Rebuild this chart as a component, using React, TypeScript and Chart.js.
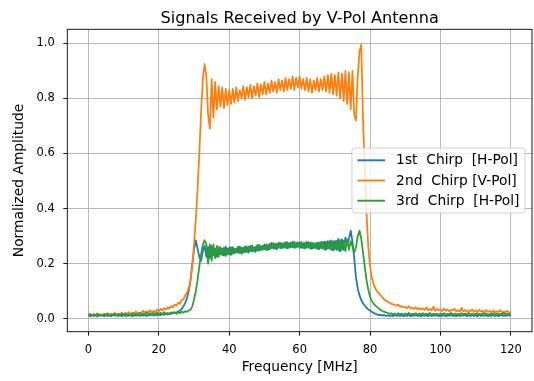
import React, { useEffect, useRef } from "react";
import { Chart, registerables } from "chart.js";

Chart.register(...registerables);

const TITLE = "Signals Received by V-Pol Antenna";
const X_LABEL = "Frequency [MHz]";
const Y_LABEL = "Normalized Amplitude";
const LEGEND_LABELS = ["1st  Chirp  [H-Pol]", "2nd  Chirp [V-Pol]", "3rd  Chirp  [H-Pol]"];
const COLORS = ["#1f77b4", "#ff7f0e", "#2ca02c"];

// frequency sampling grid (MHz): 0 .. 120 in steps of 0.5
const FREQ_STEP_MHZ = 0.5;
const X_TICKS = [0, 20, 40, 60, 80, 100, 120];
const Y_TICKS = [0.0, 0.2, 0.4, 0.6, 0.8, 1.0];

// 1st chirp [H-Pol]
const CHIRP1_H = [
  0.012, 0.009, 0.014, 0.010, 0.013, 0.008, 0.012, 0.011, 0.014, 0.009,
  0.013, 0.010, 0.012, 0.009, 0.014, 0.011, 0.013, 0.010, 0.012, 0.009,
  0.014, 0.010, 0.012, 0.011, 0.015, 0.009, 0.013, 0.011, 0.014, 0.010,
  0.013, 0.011, 0.015, 0.010, 0.014, 0.012, 0.016, 0.011, 0.015, 0.012,
  0.016, 0.013, 0.017, 0.014, 0.019, 0.015, 0.020, 0.018, 0.023, 0.021,
  0.022, 0.026, 0.030, 0.036, 0.045, 0.058, 0.075, 0.100, 0.140, 0.200,
  0.250, 0.285, 0.255, 0.225, 0.210, 0.245, 0.265, 0.225, 0.260, 0.220,
  0.265, 0.230, 0.255, 0.225, 0.260, 0.235, 0.255, 0.230, 0.262, 0.235,
  0.258, 0.232, 0.260, 0.238, 0.255, 0.240, 0.262, 0.236, 0.258, 0.242,
  0.262, 0.240, 0.265, 0.245, 0.260, 0.243, 0.268, 0.247, 0.264, 0.250,
  0.270, 0.250, 0.268, 0.252, 0.275, 0.255, 0.272, 0.252, 0.276, 0.256,
  0.274, 0.258, 0.278, 0.255, 0.275, 0.260, 0.280, 0.257, 0.276, 0.262,
  0.278, 0.258, 0.275, 0.255, 0.280, 0.258, 0.276, 0.254, 0.274, 0.256,
  0.276, 0.252, 0.278, 0.255, 0.280, 0.250, 0.282, 0.254, 0.285, 0.248,
  0.283, 0.250, 0.290, 0.245, 0.288, 0.250, 0.295, 0.270, 0.290, 0.320,
  0.280, 0.220, 0.150, 0.110, 0.085, 0.068, 0.056, 0.048, 0.040, 0.034,
  0.030, 0.025, 0.022, 0.018, 0.016, 0.013, 0.015, 0.011, 0.014, 0.010,
  0.013, 0.010, 0.012, 0.009, 0.014, 0.011, 0.012, 0.010, 0.013, 0.009,
  0.012, 0.010, 0.014, 0.009, 0.012, 0.011, 0.013, 0.010, 0.012, 0.009,
  0.013, 0.011, 0.012, 0.009, 0.014, 0.010, 0.012, 0.011, 0.013, 0.009,
  0.012, 0.010, 0.013, 0.009, 0.012, 0.011, 0.014, 0.010, 0.012, 0.009,
  0.013, 0.010, 0.012, 0.011, 0.014, 0.009, 0.012, 0.010, 0.013, 0.010,
  0.012, 0.009, 0.014, 0.010, 0.012, 0.011, 0.013, 0.009, 0.012, 0.010,
  0.013, 0.010, 0.012, 0.009, 0.014, 0.011, 0.012, 0.010, 0.013, 0.011,
  0.012,
];

// 2nd chirp [V-Pol]
const CHIRP2_V = [
  0.014, 0.018, 0.012, 0.017, 0.013, 0.019, 0.014, 0.016, 0.012, 0.018,
  0.015, 0.020, 0.013, 0.018, 0.016, 0.021, 0.014, 0.019, 0.017, 0.022,
  0.016, 0.021, 0.018, 0.024, 0.017, 0.022, 0.020, 0.026, 0.019, 0.023,
  0.021, 0.029, 0.022, 0.027, 0.024, 0.031, 0.023, 0.028, 0.026, 0.033,
  0.027, 0.036, 0.030, 0.038, 0.033, 0.042, 0.037, 0.046, 0.041, 0.052,
  0.048, 0.058, 0.055, 0.068, 0.070, 0.085, 0.095, 0.112, 0.140, 0.190,
  0.270, 0.360, 0.470, 0.600, 0.750, 0.870, 0.925, 0.880, 0.740, 0.690,
  0.870, 0.730, 0.860, 0.760, 0.845, 0.770, 0.840, 0.765, 0.835, 0.775,
  0.830, 0.780, 0.835, 0.785, 0.840, 0.790, 0.830, 0.800, 0.845, 0.795,
  0.840, 0.805, 0.850, 0.800, 0.845, 0.810, 0.855, 0.805, 0.850, 0.815,
  0.860, 0.815, 0.855, 0.820, 0.865, 0.825, 0.860, 0.820, 0.870, 0.830,
  0.865, 0.825, 0.875, 0.830, 0.870, 0.835, 0.880, 0.830, 0.875, 0.840,
  0.880, 0.835, 0.870, 0.830, 0.875, 0.825, 0.870, 0.820, 0.865, 0.830,
  0.875, 0.825, 0.870, 0.830, 0.880, 0.825, 0.885, 0.820, 0.890, 0.815,
  0.885, 0.810, 0.895, 0.800, 0.890, 0.790, 0.900, 0.780, 0.895, 0.760,
  0.900, 0.740, 0.720, 0.880, 0.970, 0.995, 0.720, 0.550, 0.380, 0.260,
  0.190, 0.150, 0.125, 0.110, 0.100, 0.092, 0.085, 0.078, 0.070, 0.066,
  0.062, 0.058, 0.055, 0.052, 0.050, 0.047, 0.052, 0.044, 0.046, 0.041,
  0.043, 0.038, 0.046, 0.037, 0.040, 0.035, 0.042, 0.034, 0.039, 0.033,
  0.038, 0.032, 0.041, 0.031, 0.036, 0.030, 0.044, 0.029, 0.035, 0.031,
  0.033, 0.028, 0.037, 0.029, 0.034, 0.027, 0.032, 0.030, 0.036, 0.027,
  0.031, 0.026, 0.040, 0.027, 0.032, 0.025, 0.030, 0.028, 0.034, 0.025,
  0.030, 0.024, 0.033, 0.026, 0.029, 0.023, 0.031, 0.025, 0.028, 0.024,
  0.030, 0.023, 0.027, 0.025, 0.031, 0.022, 0.026, 0.024, 0.029, 0.022,
  0.025,
];

// 3rd chirp [H-Pol]
const CHIRP3_H = [
  0.013, 0.017, 0.011, 0.016, 0.012, 0.018, 0.013, 0.015, 0.011, 0.017,
  0.014, 0.018, 0.012, 0.016, 0.013, 0.019, 0.012, 0.017, 0.014, 0.018,
  0.013, 0.019, 0.014, 0.017, 0.012, 0.020, 0.015, 0.018, 0.013, 0.021,
  0.015, 0.019, 0.014, 0.022, 0.016, 0.020, 0.015, 0.021, 0.017, 0.023,
  0.016, 0.022, 0.017, 0.024, 0.018, 0.021, 0.016, 0.023, 0.019, 0.024,
  0.018, 0.025, 0.020, 0.026, 0.022, 0.028, 0.025, 0.030, 0.033, 0.045,
  0.070, 0.100, 0.140, 0.190, 0.235, 0.270, 0.285, 0.270, 0.200, 0.270,
  0.210, 0.270, 0.220, 0.265, 0.225, 0.260, 0.230, 0.258, 0.228, 0.255,
  0.232, 0.260, 0.236, 0.255, 0.240, 0.262, 0.238, 0.258, 0.240, 0.263,
  0.242, 0.262, 0.245, 0.266, 0.244, 0.262, 0.248, 0.268, 0.250, 0.265,
  0.252, 0.270, 0.250, 0.272, 0.256, 0.275, 0.254, 0.273, 0.258, 0.276,
  0.256, 0.275, 0.258, 0.278, 0.257, 0.276, 0.260, 0.279, 0.258, 0.277,
  0.257, 0.279, 0.256, 0.276, 0.258, 0.278, 0.255, 0.277, 0.257, 0.275,
  0.254, 0.277, 0.256, 0.279, 0.252, 0.280, 0.255, 0.282, 0.250, 0.281,
  0.252, 0.283, 0.248, 0.286, 0.250, 0.284, 0.246, 0.288, 0.250, 0.282,
  0.262, 0.240, 0.260, 0.300, 0.320, 0.290, 0.240, 0.190, 0.140, 0.105,
  0.080, 0.065, 0.055, 0.048, 0.042, 0.037, 0.032, 0.028, 0.026, 0.023,
  0.021, 0.018, 0.020, 0.016, 0.019, 0.015, 0.020, 0.016, 0.018, 0.015,
  0.019, 0.016, 0.021, 0.015, 0.018, 0.016, 0.020, 0.014, 0.019, 0.016,
  0.020, 0.015, 0.018, 0.016, 0.021, 0.014, 0.019, 0.016, 0.018, 0.015,
  0.019, 0.016, 0.020, 0.014, 0.018, 0.017, 0.021, 0.015, 0.019, 0.016,
  0.018, 0.015, 0.020, 0.016, 0.019, 0.014, 0.021, 0.016, 0.018, 0.015,
  0.019, 0.016, 0.018, 0.015, 0.020, 0.016, 0.019, 0.014, 0.018, 0.016,
  0.020, 0.015, 0.019, 0.016, 0.018, 0.015, 0.021, 0.016, 0.019, 0.017,
  0.018,
];

const FONT = "'DejaVu Sans', 'Liberation Sans', sans-serif";
const TICK_PX = 11.5;
const LABEL_PX = 13.8;
const TITLE_PX = 16.1;

const W = 534;
const H = 381;

export default function App() {
  const ref = useRef<HTMLCanvasElement>(null);

  useEffect(() => {
    const canvas = ref.current;
    if (!canvas) return;
    const seriesList = [CHIRP1_H, CHIRP2_V, CHIRP3_H];
    const toPoints = (ys: number[]) => ys.map((y, i) => ({ x: i * FREQ_STEP_MHZ, y }));

    const framePlugin = {
      id: "frameAndTitle",
      afterDatasetsDraw(chart: any) {
        const { ctx, chartArea } = chart;
        ctx.save();
        ctx.strokeStyle = "#000";
        ctx.lineWidth = 0.9;
        ctx.strokeRect(chartArea.left, chartArea.top, chartArea.right - chartArea.left, chartArea.bottom - chartArea.top);
        ctx.fillStyle = "#000";
        ctx.font = `${TITLE_PX}px ${FONT}`;
        ctx.textAlign = "center";
        ctx.textBaseline = "alphabetic";
        ctx.fillText(TITLE, (chartArea.left + chartArea.right) / 2, chartArea.top - 6.8);
        ctx.restore();
      },
    };

    const legendPlugin = {
      id: "boxLegend",
      afterDraw(chart: any) {
        const { ctx, chartArea } = chart;
        ctx.save();
        ctx.font = `${LABEL_PX}px ${FONT}`;
        const textW = Math.max(...LEGEND_LABELS.map((t) => ctx.measureText(t).width));
        const pad = 0.4 * LABEL_PX;
        const handle = 2.0 * LABEL_PX;
        const gap = 0.8 * LABEL_PX;
        const boxW = pad + handle + gap + textW + pad;
        const boxH = 65;
        const right = chartArea.right - 7;
        const left = right - boxW;
        const cy = (chartArea.top + chartArea.bottom) / 2;
        const top = cy - boxH / 2;
        ctx.beginPath();
        (ctx as any).roundRect(left, top, boxW, boxH, 3);
        ctx.fillStyle = "rgba(255,255,255,0.8)";
        ctx.fill();
        ctx.strokeStyle = "#cccccc";
        ctx.lineWidth = 0.9;
        ctx.stroke();
        const pitch = 20.2;
        LEGEND_LABELS.forEach((label, i) => {
          const y = cy + (i - 1) * pitch;
          ctx.beginPath();
          ctx.moveTo(left + pad, y);
          ctx.lineTo(left + pad + handle, y);
          ctx.strokeStyle = COLORS[i];
          ctx.lineWidth = 1.9;
          ctx.stroke();
          ctx.fillStyle = "#000";
          ctx.textAlign = "left";
          ctx.textBaseline = "middle";
          ctx.fillText(label, left + pad + handle + gap, y + 0.5);
        });
        ctx.restore();
      },
    };

    const chart = new Chart(canvas, {
      type: "line",
      data: {
        datasets: seriesList.map((ys, i) => ({
          label: LEGEND_LABELS[i],
          data: toPoints(ys),
          borderColor: COLORS[i],
          backgroundColor: COLORS[i],
          borderWidth: 1.75,
          pointRadius: 0,
          tension: 0,
          fill: false,
          borderJoinStyle: "round" as const,
          order: 2 - i,
        })),
      },
      options: {
        responsive: false,
        devicePixelRatio: 1,
        animation: false,
        events: [],
        layout: { padding: { top: 29.3, right: 2, left: 0, bottom: 0 } },
        plugins: {
          legend: { display: false },
          tooltip: { enabled: false },
          title: { display: false },
        },
        scales: {
          x: {
            type: "linear",
            min: -6,
            max: 126,
            afterFit: (s: any) => {
              s.height = 49.3;
            },
            afterBuildTicks: (s: any) => {
              s.ticks = X_TICKS.map((v) => ({ value: v }));
            },
            ticks: {
              includeBounds: false,
              autoSkip: false,
              maxRotation: 0,
              padding: 7.5,
              color: "#000",
              font: { family: FONT, size: TICK_PX },
              callback: (v: any) => String(v),
            },
            grid: {
              color: "#b0b0b0",
              lineWidth: 0.9,
              drawTicks: true,
              tickLength: 4,
              tickColor: "#000",
              tickWidth: 0.9,
            },
            border: { display: false },
            title: {
              display: true,
              text: X_LABEL,
              color: "#000",
              font: { family: FONT, size: LABEL_PX },
              padding: { top: 0, bottom: 5.2 },
            },
          },
          y: {
            type: "linear",
            min: -0.047,
            max: 1.051,
            afterFit: (s: any) => {
              s.width = 67.3;
            },
            afterBuildTicks: (s: any) => {
              s.ticks = Y_TICKS.map((v) => ({ value: v }));
            },
            ticks: {
              includeBounds: false,
              autoSkip: false,
              padding: 8.5,
              color: "#000",
              font: { family: FONT, size: TICK_PX },
              callback: (v: any) => Number(v).toFixed(1),
            },
            grid: {
              color: "#b0b0b0",
              lineWidth: 0.9,
              drawTicks: true,
              tickLength: 4,
              tickColor: "#000",
              tickWidth: 0.9,
            },
            border: { display: false },
            title: {
              display: true,
              text: Y_LABEL,
              color: "#000",
              font: { family: FONT, size: LABEL_PX },
              padding: { top: 10.7, bottom: 0 },
            },
          },
        },
      },
      plugins: [framePlugin, legendPlugin],
    } as any);

    return () => chart.destroy();
  }, []);

  return (
    <div style={{ position: "fixed", left: 0, top: 0, width: W, height: H, background: "#fff" }}>
      <canvas ref={ref} width={W} height={H} style={{ display: "block", width: W, height: H }} />
    </div>
  );
}
